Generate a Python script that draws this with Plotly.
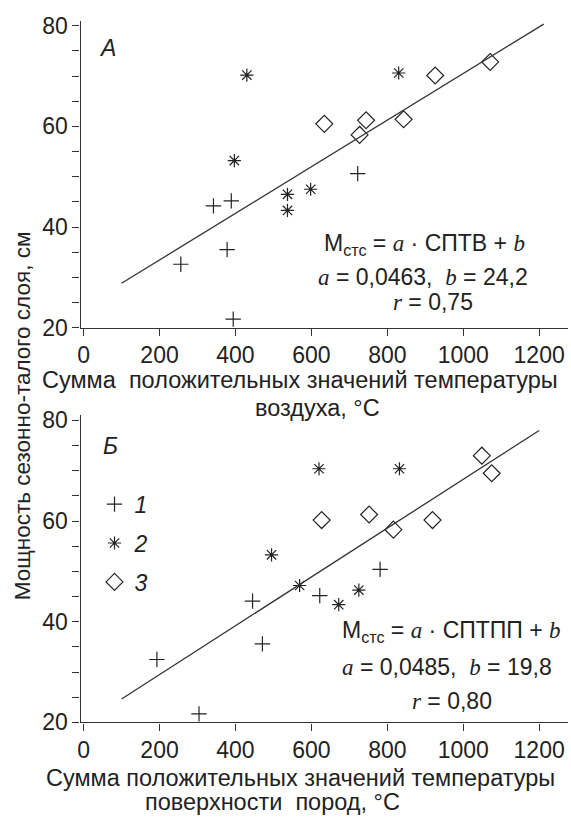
import plotly.graph_objects as go

# ---------------- data ----------------
# Panel A: x = sum of positive air temperatures, y = active layer thickness
a1_x = [256, 342, 378, 389, 394, 722]
a1_y = [32.6, 44.2, 35.5, 45.2, 21.7, 50.6]
a2_x = [397, 430, 537, 537, 598, 830]
a2_y = [53.2, 70.2, 46.5, 43.3, 47.5, 70.6]
a3_x = [634, 727, 744, 843, 926, 1071]
a3_y = [60.5, 58.3, 61.2, 61.4, 70.1, 72.8]
a_coef, b_coef = 0.0463, 24.2
fit_a_x = [100, 1212]

# Panel B: x = sum of positive rock-surface temperatures
b1_x = [193, 304, 445, 471, 622, 781]
b1_y = [32.5, 21.7, 44.1, 35.6, 45.2, 50.4]
b2_x = [495, 569, 620, 672, 725, 832]
b2_y = [53.3, 47.2, 70.4, 43.4, 46.3, 70.4]
b3_x = [627, 752, 816, 919, 1049, 1075]
b3_y = [60.2, 61.3, 58.3, 60.2, 73.0, 69.5]
a2_coef, b2_coef = 0.0485, 19.8
fit_b_x = [100, 1200]

legend_names = ["1", "2", "3"]
x_ticks = [0, 200, 400, 600, 800, 1000, 1200]
y_ticks = [20, 40, 60, 80]

# ---------------- style ----------------
W, H = 571, 828
FONT = "Liberation Sans"
SERIF = "Liberation Serif"
INK = "#222222"
LINE = "#333333"
FS = 23
TFS = 23

def P(px, py):
    return px / W, 1 - py / H

fig = go.Figure()

sym = {"1": ("cross-thin", 11), "2": ("asterisk", 11), "3": ("diamond-open", 13)}

def add_series(xs, ys, key, xa, ya, show):
    s, size = sym[key]
    fig.add_trace(go.Scatter(
        x=xs, y=ys, mode="markers", xaxis=xa, yaxis=ya,
        name="<i>%s</i>" % key, legendgroup=key, showlegend=show,
        marker=dict(symbol=s, size=size, color=INK,
                    line=dict(color=INK, width=1.2)),
    ))

add_series(a1_x, a1_y, legend_names[0], "x", "y", False)
add_series(a2_x, a2_y, legend_names[1], "x", "y", False)
add_series(a3_x, a3_y, legend_names[2], "x", "y", False)
fig.add_trace(go.Scatter(x=fit_a_x, y=[a_coef * v + b_coef for v in fit_a_x],
                         mode="lines", line=dict(color=LINE, width=1.3),
                         xaxis="x", yaxis="y", showlegend=False))

add_series(b1_x, b1_y, legend_names[0], "x2", "y2", True)
add_series(b2_x, b2_y, legend_names[1], "x2", "y2", True)
add_series(b3_x, b3_y, legend_names[2], "x2", "y2", True)
fig.add_trace(go.Scatter(x=fit_b_x, y=[a2_coef * v + b2_coef for v in fit_b_x],
                         mode="lines", line=dict(color=LINE, width=1.3),
                         xaxis="x2", yaxis="y2", showlegend=False))

xdom = [78 / W, 568 / W]
top_dom = [1 - 328 / H, 1 - 13 / H]
bot_dom = [1 - 733 / H, 1 - 418 / H]

xcommon = dict(range=[-8, 1276], domain=xdom, showgrid=False, zeroline=False,
               showline=True, linecolor=LINE, linewidth=1.3,
               tickmode="array", tickvals=x_ticks, ticktext=[str(v) for v in x_ticks],
               ticks="outside", ticklen=7, tickwidth=1.2, tickcolor=LINE,
               tickfont=dict(family=FONT, size=TFS, color=INK))
ycommon = dict(range=[20, 81], showgrid=False, zeroline=False,
               showline=True, linecolor=LINE, linewidth=1.3,
               tickmode="array", tickvals=y_ticks, ticktext=[str(v) for v in y_ticks],
               ticks="outside", ticklen=7, tickwidth=1.2, tickcolor=LINE,
               minor=dict(dtick=5, tick0=0, ticks="outside", ticklen=7,
                          tickwidth=1.2, tickcolor=LINE),
               tickfont=dict(family=FONT, size=TFS, color=INK))

fig.update_layout(
    width=W, height=H, margin=dict(l=0, r=0, t=0, b=0),
    paper_bgcolor="white", plot_bgcolor="white",
    font=dict(family=FONT, size=FS, color=INK),
    xaxis=dict(**xcommon, anchor="y"),
    yaxis=dict(**ycommon, domain=top_dom, anchor="x"),
    xaxis2=dict(**xcommon, anchor="y2"),
    yaxis2=dict(**ycommon, domain=bot_dom, anchor="x2"),
    legend=dict(x=P(92, 0)[0], y=P(0, 487)[1], xanchor="left", yanchor="top",
                bgcolor="rgba(0,0,0,0)", tracegroupgap=6,
                font=dict(family=FONT, size=FS, color=INK), itemwidth=30),
    showlegend=True,
)

def ann(px, py, text, size=FS, anchor="center", angle=0, family=FONT):
    x, y = P(px, py)
    fig.add_annotation(x=x, y=y, xref="paper", yref="paper", text=text,
                       showarrow=False, xanchor=anchor, yanchor="middle",
                       textangle=angle, font=dict(family=family, size=size, color=INK))

ia = '<span style="font-family:%s"><i>a</i></span>' % SERIF
ib = '<span style="font-family:%s"><i>b</i></span>' % SERIF
ir = '<span style="font-family:%s"><i>r</i></span>' % SERIF

# panel labels
ann(105, 41, "<i>А</i>")
ann(108, 449, "<i>Б</i>")

# equations A
ann(424, 243, "M<sub>стс</sub> = %s · СПТВ + %s" % (ia, ib))
ann(422, 276, "%s = 0,0463,  %s = 24,2" % (ia, ib))
ann(432, 302, "%s = 0,75" % ir)
# equations B
ann(451, 640, "M<sub>стс</sub> = %s · СПТПП + %s" % (ia, ib))
ann(446, 676, "%s = 0,0485,  %s = 19,8" % (ia, ib))
ann(451, 711, "%s = 0,80" % ir)

# axis titles
TT = 23.5
ann(299, 382, "Сумма  положительных значений температуры", size=TT)
ann(316, 410, "воздуха, °С", size=TT)
ann(299, 790, "Сумма положительных значений температуры", size=TT)
ann(271, 815, "поверхности  пород, °С", size=TT)
ann(20, 418, "Мощность сезонно-талого слоя, см", size=22.5, angle=-90)

fig.write_html("out.html")
